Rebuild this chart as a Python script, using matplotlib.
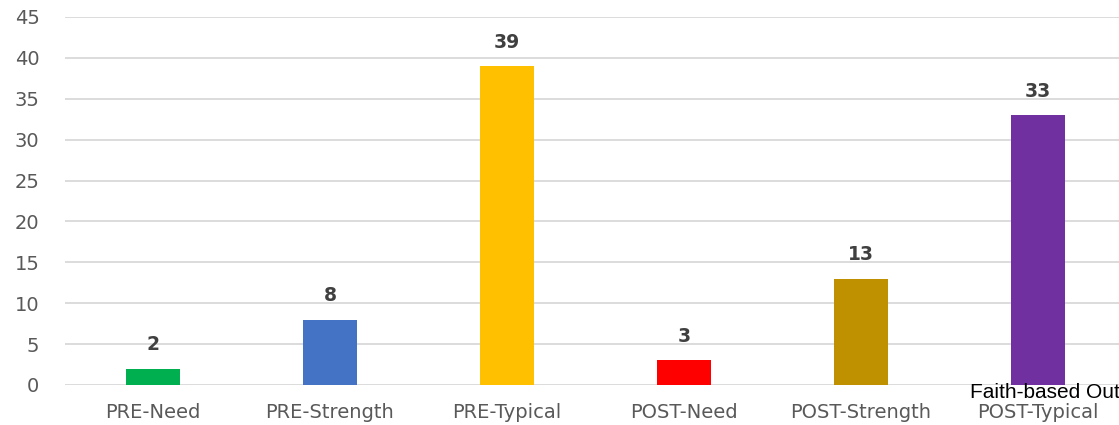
import matplotlib.pyplot as plt

categories = ['PRE-Need', 'PRE-Strength', 'PRE-Typical', 'POST-Need', 'POST-Strength', 'POST-Typical']
values = [2, 8, 39, 3, 13, 33]
colors = ['#00b050', '#4472c4', '#ffc000', '#ff0000', '#bf9000', '#7030a0']
yticks = [0, 5, 10, 15, 20, 25, 30, 35, 40, 45]

fig = plt.figure(figsize=(11.19, 4.25), dpi=100)
ax = fig.add_axes([64.5 / 1119, 40 / 425, 1062 / 1119, 368 / 425])

x = range(len(categories))
ax.bar(x, values, width=0.31, color=colors, zorder=3)
for i, v in enumerate(values):
    ax.text(i, v + 2.9, str(v), ha='center', va='center', fontsize=13.5,
            fontweight='bold', color='#404040', family='DejaVu Sans')

ax.set_xlim(-0.5, len(categories) - 0.5)
ax.set_ylim(0, 45)
ax.set_yticks(yticks)
ax.set_xticks(list(x))
ax.set_xticklabels(categories)
ax.grid(axis='y', color='#d9d9d9', linewidth=1.3, zorder=0)
for s in ax.spines.values():
    s.set_visible(False)
ax.tick_params(length=0, labelsize=14, labelcolor='#595959')
for lbl in ax.get_xticklabels() + ax.get_yticklabels():
    lbl.set_family('DejaVu Sans')
ax.tick_params(axis='x', pad=13)
ax.tick_params(axis='y', pad=18)

fig.text(970 / 1119, 1 - 393 / 425, 'Faith-based Outcomes', fontsize=15,
         family='Liberation Sans', color='black', va='center', ha='left')

fig.savefig('out.png', dpi=100)
